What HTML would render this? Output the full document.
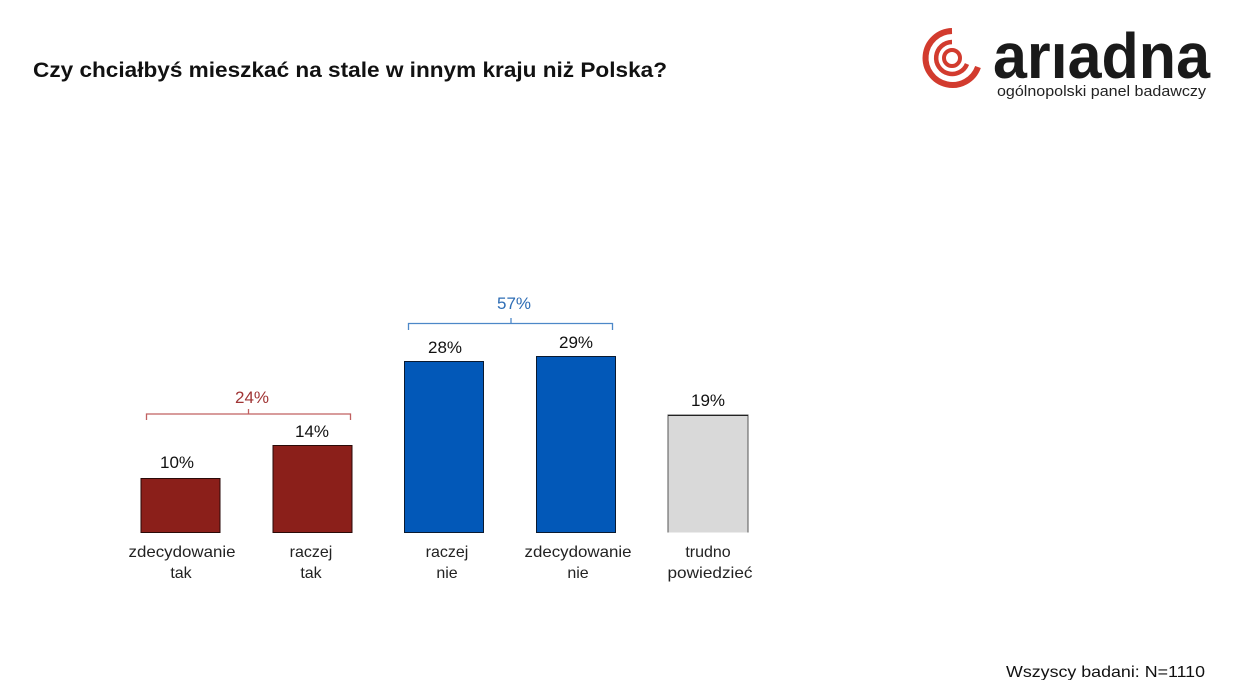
<!DOCTYPE html>
<html>
<head>
<meta charset="utf-8">
<style>
html,body{margin:0;padding:0;background:#fff;}
svg{display:block;}
text{font-family:"Liberation Sans","DejaVu Sans",sans-serif;}
</style>
</head>
<body>
<svg width="1234" height="680" viewBox="0 0 1234 680" xmlns="http://www.w3.org/2000/svg">
<rect width="1234" height="680" fill="#fff"/>
<!-- Title -->
<text x="33" y="77" font-size="21" font-weight="bold" fill="#111" textLength="634" lengthAdjust="spacingAndGlyphs">Czy chciałbyś mieszkać na stale w innym kraju niż Polska?</text>

<!-- Logo mark -->
<g fill="none" stroke="#d23b2e">
  <circle cx="952" cy="58" r="8" stroke-width="4"/>
  <path d="M952 42 A16 16 0 1 0 967 64" stroke-width="4.5"/>
  <path d="M952 31 A27 27 0 1 0 978 67" stroke-width="6"/>
</g>
<text x="993" y="78" font-size="64" font-weight="bold" fill="#1a1a1a" textLength="217" lengthAdjust="spacingAndGlyphs">arıadna</text>
<text x="997" y="96" font-size="15" fill="#222" textLength="209" lengthAdjust="spacingAndGlyphs">ogólnopolski panel badawczy</text>

<!-- Brackets -->
<path d="M146.5 420 V414 H350.5 V420 M248.5 414 V409" fill="none" stroke="#c06060" stroke-width="1.3"/>
<text x="252" y="403" font-size="17" fill="#a03535" text-anchor="middle">24%</text>
<path d="M408.5 330 V323.5 H612.5 V330 M511 323.5 V318" fill="none" stroke="#4d88c8" stroke-width="1.3"/>
<text x="514" y="309" font-size="17" fill="#2e6db5" text-anchor="middle">57%</text>

<!-- Bars -->
<rect x="141" y="478.5" width="79" height="54" fill="#8b1f1a" stroke="#2a0a08" stroke-width="1"/>
<rect x="273" y="445.5" width="79" height="87" fill="#8b1f1a" stroke="#2a0a08" stroke-width="1"/>
<rect x="404.5" y="361.5" width="79" height="171" fill="#0258b8" stroke="#0a1a30" stroke-width="1"/>
<rect x="536.5" y="356.5" width="79" height="176" fill="#0258b8" stroke="#0a1a30" stroke-width="1"/>
<rect x="668" y="415" width="80" height="117.5" fill="#d9d9d9"/>
<path d="M668 532.5 V415 H748 V532.5" fill="none" stroke="#555" stroke-width="1"/>
<line x1="668" y1="415.5" x2="748" y2="415.5" stroke="#222" stroke-width="1"/>

<!-- Value labels -->
<g font-size="17" fill="#111" text-anchor="middle">
<text x="177" y="468">10%</text>
<text x="312" y="437">14%</text>
<text x="445" y="353">28%</text>
<text x="576" y="348">29%</text>
<text x="708" y="406">19%</text>
</g>

<!-- Category labels -->
<g font-size="16" fill="#222" text-anchor="middle">
<text x="182" y="557" textLength="107" lengthAdjust="spacingAndGlyphs">zdecydowanie</text>
<text x="181" y="578">tak</text>
<text x="311" y="557">raczej</text>
<text x="311" y="578">tak</text>
<text x="447" y="557">raczej</text>
<text x="447" y="578">nie</text>
<text x="578" y="557" textLength="107" lengthAdjust="spacingAndGlyphs">zdecydowanie</text>
<text x="578" y="578">nie</text>
<text x="708" y="557">trudno</text>
<text x="710" y="578" textLength="85" lengthAdjust="spacingAndGlyphs">powiedzieć</text>
</g>

<!-- Footer -->
<text x="1006" y="677" font-size="16" fill="#111" textLength="199" lengthAdjust="spacingAndGlyphs">Wszyscy badani: N=1110</text>
</svg>
</body>
</html>
